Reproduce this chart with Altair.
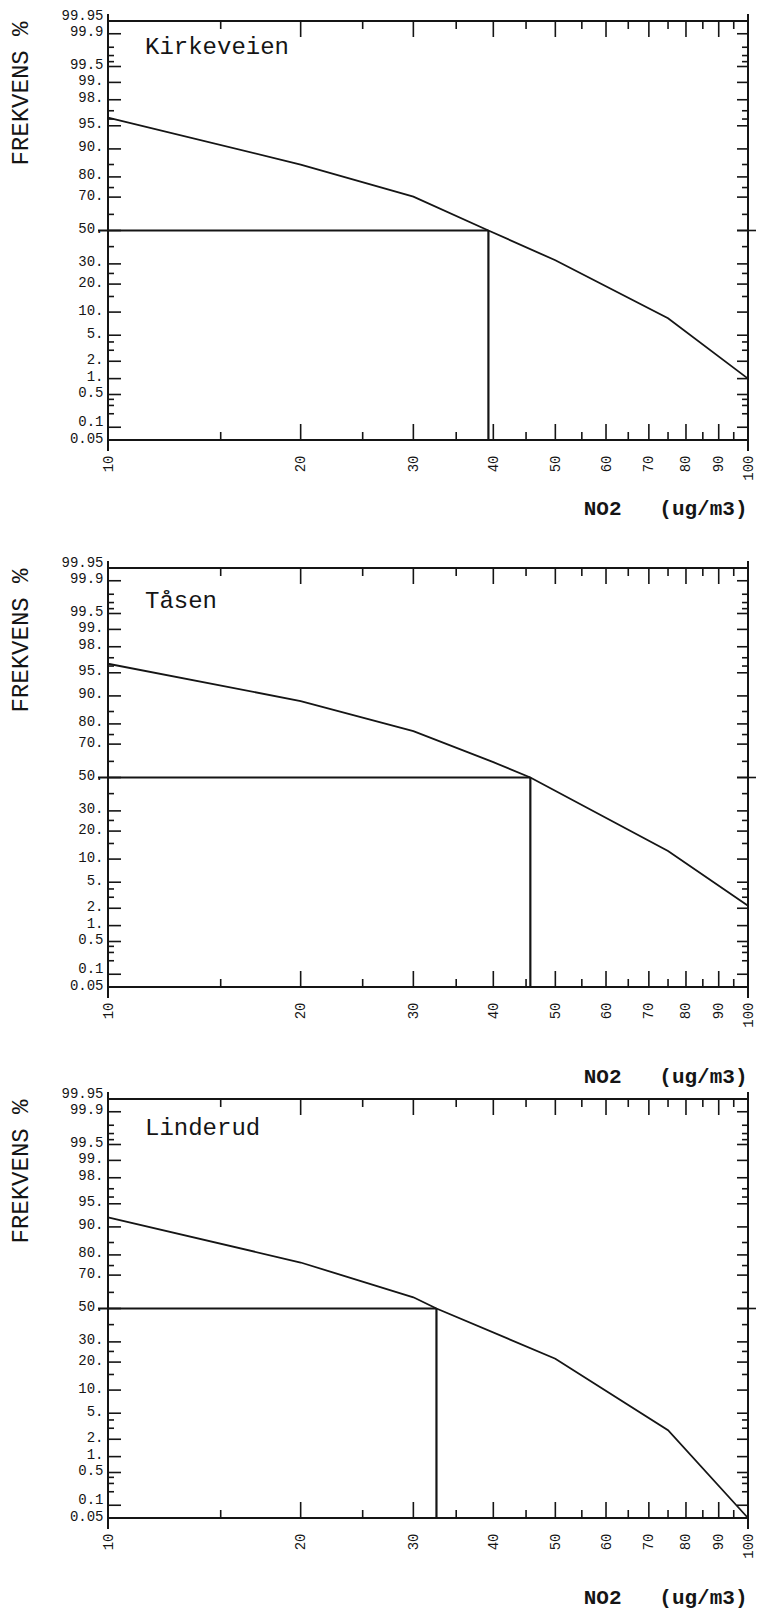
import altair as alt
import pandas as pd
from statistics import NormalDist

# ---------------- data ----------------
stations = ["Kirkeveien", "Tåsen", "Linderud"]
no2_values = [
    [10, 20, 30, 39.3, 50, 75, 100],
    [10, 20, 30, 40, 45.7, 75, 100],
    [10, 20, 30, 32.6, 50, 75, 100],
]
freq_values = [
    [96.2, 85.0, 70.3, 50.0, 32.0, 8.4, 1.0],
    [96.3, 88.5, 76.7, 59.5, 50.0, 12.4, 2.2],
    [92.4, 76.5, 57.0, 50.0, 21.5, 2.8, 0.05],
]
median_no2 = [39.3, 45.7, 32.6]

y_tick_labels = [99.95, 99.9, 99.5, 99, 98, 95, 90, 80, 70, 50, 30, 20, 10, 5, 2, 1, 0.5, 0.1, 0.05]
y_major_ticks = [99.9, 99.5, 99, 98, 95, 90, 80, 70, 50, 30, 20, 10, 5, 2, 1, 0.5, 0.1]
y_minor_ticks = [99.8, 99.7, 99.6, 97, 96, 85, 75, 60, 40, 25, 15, 4, 3, 0.4, 0.3, 0.2]
x_tick_labels = [10, 20, 30, 40, 50, 60, 70, 80, 90, 100]
x_major_ticks = [20, 30, 40, 50, 60, 70, 80, 90]
x_minor_ticks = [15, 25, 35, 45, 55, 65, 75, 85, 95]

# ---------------- layout / style ----------------
W, H = 640, 419
INK = "#151515"
MONO = "Liberation Mono"
name_y = [26, 33, 29]
title_y = [68, 89, 79]
spacer = [115, 0, 0]

nd = NormalDist()
def zq(p):
    return nd.inv_cdf(p / 100.0)

ZLO, ZHI = zq(0.05), zq(99.95)
xscale = alt.Scale(type="log", domain=[10, 100], nice=False)
yscale = alt.Scale(domain=[ZLO, ZHI], nice=False, zero=False)

LBL = ("round(cumulativeNormal(datum.value)*10000)/100 % 1 == 0 ? "
       "format(round(cumulativeNormal(datum.value)*100), 'd') + '.\u00a0' : "
       "format(round(cumulativeNormal(datum.value)*10000)/100, '')")
LBL_OFFSET = {
    "condition": {"test": "datum.value > 3.2 || (datum.value < -3.0 && datum.value > -3.2)",
                  "value": -5.5},
    "value": -2,
}

ZCALC = "quantileNormal(datum.p / 100)"
one = pd.DataFrame({"k": [0]})


def make_panel(i):
    x_axis = alt.Axis(
        values=x_tick_labels, format="d", labelAngle=270, labelFont=MONO,
        labelFontSize=14, labelColor=INK, labelPadding=15, labelFlush=False,
        labelOverlap=False, ticks=False, domain=False, grid=False,
        title="NO2\u00a0\u00a0\u00a0(ug/m3)", titleFont=MONO, titleFontSize=21,
        titleFontWeight="bold", titleColor=INK, titleX=W - 1, titleY=title_y[i],
        titleAlign="right", titleBaseline="middle", titleAngle=0,
    )
    y_axis = alt.Axis(
        values=[zq(p) for p in y_tick_labels], labelExpr=LBL, labelFont=MONO,
        labelFontSize=14, labelColor=INK, labelPadding=5, labelOffset=LBL_OFFSET,
        ticks=False, domain=False, grid=False, labelOverlap=False, labelFlush=False,
        title="FREKVENS\u00a0%", titleFont=MONO, titleFontSize=24,
        titleFontWeight="normal", titleColor=INK, titleAngle=270, titleX=-88,
        titleY=0, titleAlign="right", titleBaseline="middle",
    )

    def Xf(f):
        return alt.X(f"{f}:Q", scale=xscale, axis=x_axis)

    Yz = alt.Y("z:Q", scale=yscale, axis=y_axis)

    curve_df = pd.DataFrame({"v": no2_values[i], "p": freq_values[i]})
    curve = (
        alt.Chart(curve_df).transform_calculate(z=ZCALC)
        .mark_line(color=INK, strokeWidth=1.8)
        .encode(x=Xf("v"), y=Yz)
    )

    ymaj = pd.DataFrame({"p": y_major_ticks})
    ymin = pd.DataFrame({"p": y_minor_ticks})
    xmaj = pd.DataFrame({"v": x_major_ticks})
    xmin = pd.DataFrame({"v": x_minor_ticks})

    def yt(df, x1, x2):
        return (alt.Chart(df).transform_calculate(z=ZCALC)
                .mark_rule(color=INK, strokeWidth=1.6)
                .encode(x=alt.value(x1), x2=alt.value(x2), y=Yz))

    def xt(df, y1, y2):
        return (alt.Chart(df).mark_rule(color=INK, strokeWidth=1.6)
                .encode(x=Xf("v"), y=alt.value(y1), y2=alt.value(y2)))

    ticks = [
        yt(ymaj, 0, 13), yt(ymin, 0, 6), yt(ymaj, W, W - 11), yt(ymin, W, W - 6),
        xt(xmaj, H, H - 16), xt(xmin, H, H - 8), xt(xmaj, 0, 16), xt(xmin, 0, 8),
    ]

    frame = [
        alt.Chart(one).mark_rule(color=INK, strokeWidth=2)
        .encode(x=alt.value(0), y=alt.value(-7), y2=alt.value(H + 11)),
        alt.Chart(one).mark_rule(color=INK, strokeWidth=2)
        .encode(x=alt.value(W), y=alt.value(-7), y2=alt.value(H + 11)),
        alt.Chart(one).mark_rule(color=INK, strokeWidth=2)
        .encode(y=alt.value(0), x=alt.value(0), x2=alt.value(W)),
        alt.Chart(one).mark_rule(color=INK, strokeWidth=2)
        .encode(y=alt.value(H), x=alt.value(0), x2=alt.value(W)),
    ]

    med_df = pd.DataFrame({"v": [median_no2[i]], "p": [50.0]})
    median = [
        alt.Chart(med_df).transform_calculate(z=ZCALC)
        .mark_rule(color=INK, strokeWidth=2.2)
        .encode(x=Xf("v"), x2=alt.value(-10), y=Yz),
        alt.Chart(med_df).transform_calculate(z=ZCALC)
        .mark_rule(color=INK, strokeWidth=2.2)
        .encode(x=Xf("v"), y=Yz, y2=alt.value(H)),
        alt.Chart(med_df).transform_calculate(z=ZCALC)
        .mark_rule(color=INK, strokeWidth=1.6)
        .encode(x=alt.value(W - 11), x2=alt.value(W + 8), y=Yz),
    ]

    name = (
        alt.Chart(pd.DataFrame({"s": [stations[i]]}))
        .mark_text(align="left", baseline="middle", font=MONO, fontSize=24, color=INK)
        .encode(text="s:N", x=alt.value(37), y=alt.value(name_y[i]))
    )

    layers = frame + ticks + median + [name, curve]
    if spacer[i] > 0:
        layers.append(
            alt.Chart(one).mark_rule(color="white", opacity=0)
            .encode(x=alt.value(0), y=alt.value(H), y2=alt.value(H + spacer[i]))
        )
    return alt.layer(*layers).properties(width=W, height=H)


chart = (
    alt.vconcat(*[make_panel(i) for i in range(3)], spacing=0)
    .properties(padding={"left": 0, "top": 0, "right": 0, "bottom": 2}, background="white")
    .configure_view(stroke=None)
)

chart.save("out.html", embed_options={"renderer": "svg", "actions": False})
